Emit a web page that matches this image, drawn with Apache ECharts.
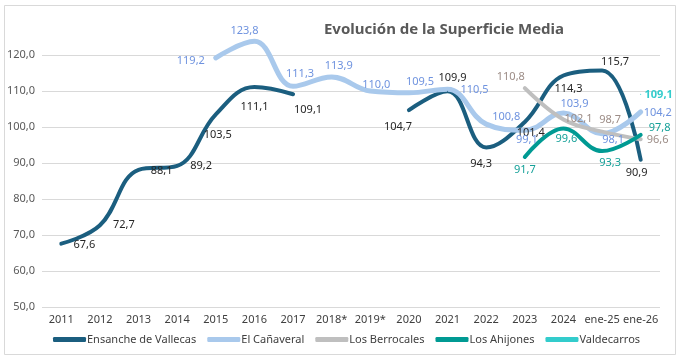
<!DOCTYPE html>
<html><head><meta charset="utf-8">
<script src="https://cdn.jsdelivr.net/npm/echarts@6/dist/echarts.min.js"></script>
<style>html,body{margin:0;padding:0;background:#fff}#c{width:686px;height:363px}</style>
</head><body><div id="c"></div>
<script>
const categories = ['2011','2012','2013','2014','2015','2016','2017','2018*','2019*','2020','2021','2022','2023','2024','ene-25','ene-26'];
const ensanche   = [67.6,72.7,88.1,89.2,103.5,111.1,109.1,null,null,104.7,109.9,94.3,101.4,114.3,115.7,90.9];
const canaveral  = [null,null,null,null,119.2,123.8,111.3,113.9,110.0,109.5,110.5,100.8,99.1,103.9,98.1,104.2];
const berrocales = [null,null,null,null,null,null,null,null,null,null,null,null,110.8,102.1,98.7,96.6];
const ahijones   = [null,null,null,null,null,null,null,null,null,null,null,null,91.7,99.6,93.3,97.8];
const valdecarros= [null,null,null,null,null,null,null,null,null,null,null,null,null,null,null,109.1];
const seriesNames = ['Ensanche de Vallecas','El Cañaveral','Los Berrocales','Los Ahijones','Valdecarros'];
const yTicks = {min:50, max:120, step:10};

// label placement (pixel offsets from each point), style only
const offEns = [[23,1],[24,0],[23,1],[24,0],[2,20],[0,20],[15,16],null,null,[-11,17],[5,-14],[-5,16],[6,11],[5,13],[13,-9],[-4,13]];
const offCan = [null,null,null,null,[-25,3],[-10,-10],[7,-12],[7,-11],[6,-6],[11,-11],[27,1],[20,-7],[2,10],[11,-9],[11,6],[17,1]];
const offBer = [null,null,null,null,null,null,null,null,null,null,null,null,[-14,-11],[15,-1],[8,-12],[17,1]];
const offAhi = [null,null,null,null,null,null,null,null,null,null,null,null,[0,13],[3,10],[8,12],[19,-7]];
const offVal = [null,null,null,null,null,null,null,null,null,null,null,null,null,null,null,[18,1]];

const fmt = v => Number(v).toFixed(1).replace('.', ',');
const FONT = 'Noto Sans';
function build(vals, offs){
  return vals.map((v,i)=> v==null ? null : {value:v, label:{offset: offs[i] || [0,0]}});
}
function mk(name, vals, offs, color, width, labelColor, bold){
  return {
    name, type:'line', smooth:0.4, clip:false, connectNulls:false,
    symbol:'circle', symbolSize:1, showSymbol:true,
    lineStyle:{color, width, cap:'round', join:'round'},
    itemStyle:{color},
    label:{show:true, position:'inside', formatter:p=>fmt(p.value), color:labelColor,
      fontSize:11, fontFamily:FONT, fontWeight: bold?'bold':'normal'},
    emphasis:{disabled:true},
    data: build(vals, offs)
  };
}
const chart = echarts.init(document.getElementById('c'));
chart.setOption({
  animation:false,
  backgroundColor:'#fff',
  graphic:[{type:'rect', shape:{x:4.5,y:5.5,width:671,height:349}, style:{fill:'none', stroke:'#d9d9d9', lineWidth:1}, silent:true}],
  title:{text:'Evolución de la Superficie Media', left:439, top:17, textAlign:'center',
    textStyle:{fontFamily:FONT, fontSize:15, fontWeight:'bold', color:'#595959'}},
  grid:{left:42, right:26, top:55, bottom:56},
  legend:{left:48, top:329, icon:'roundRect', itemWidth:33, itemHeight:5, itemGap:11,
    textStyle:{fontFamily:FONT, fontSize:11, color:'#404040', padding:[0,0,0,-4]},
    data:seriesNames},
  xAxis:{type:'category', data:categories, boundaryGap:true,
    axisLine:{show:false}, axisTick:{show:false},
    axisLabel:{color:'#404040', fontFamily:FONT, fontSize:11, margin:7, interval:0}},
  yAxis:{type:'value', min:yTicks.min, max:yTicks.max, interval:yTicks.step,
    axisLine:{show:false}, axisTick:{show:false},
    splitLine:{lineStyle:{color:'#d9d9d9', width:1}},
    axisLabel:{color:'#595959', fontFamily:FONT, fontSize:11, margin:7, formatter:v=>fmt(v)}},
  series:[
    mk(seriesNames[0], ensanche, offEns, '#1b5e7f', 4, '#262626'),
    mk(seriesNames[1], canaveral, offCan, '#a9c9ec', 5, '#6f93df'),
    mk(seriesNames[2], berrocales, offBer, '#bfbfbf', 4, '#9c8c86'),
    mk(seriesNames[3], ahijones, offAhi, '#009a93', 4, '#14a098'),
    mk(seriesNames[4], valdecarros, offVal, '#33cccc', 4, '#33cccc', true)
  ]
});
</script></body></html>
